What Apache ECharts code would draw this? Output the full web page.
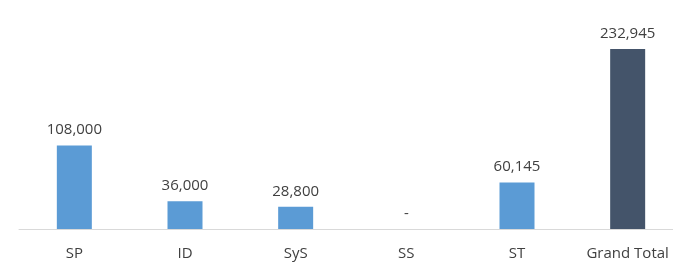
<!DOCTYPE html>
<html style="height: 100%; overflow: hidden">
<head>
  <meta charset="utf-8">
</head>
<body style="height: 100%; margin: 0; overflow: hidden">
  <!-- the plot runs past the right edge in the reference, so the canvas is a bit wider than the window -->
  <div id="container" style="width: 683px; height: 262px"></div>

  <script type="text/javascript" src="https://cdn.jsdelivr.net/npm/echarts@6/dist/echarts.min.js"></script>
  <script type="text/javascript">
    var categories = ['SP', 'ID', 'SyS', 'SS', 'ST', 'Grand Total'];
    var values = [108000, 36000, 28800, 0, 60145, 232945];
    var barColors = ['#5B9BD5', '#5B9BD5', '#5B9BD5', '#5B9BD5', '#5B9BD5', '#44546A'];

    var myChart = echarts.init(document.getElementById('container'), null, { renderer: 'canvas' });
    var font = 'Open Sans, Liberation Sans, sans-serif';

    var option = {
      animation: false,
      grid: { left: 19, top: 49, right: 0, bottom: 33, containLabel: false },
      xAxis: {
        type: 'category',
        data: categories,
        axisLine: { lineStyle: { color: '#D9D9D9', width: 1 } },
        axisTick: { show: false },
        axisLabel: { color: '#404040', fontSize: 15, fontFamily: font, margin: 17, interval: 0 }
      },
      yAxis: {
        type: 'value',
        min: 0,
        max: 232945,
        show: false,
        splitLine: { show: false }
      },
      series: [
        {
          type: 'bar',
          barWidth: 35,
          data: values.map(function (v, i) {
            return { value: v, itemStyle: { color: barColors[i] } };
          }),
          label: {
            show: true,
            position: 'top',
            distance: 8,
            color: '#404040',
            fontSize: 15,
            fontFamily: font,
            formatter: function (p) {
              // zero shows as a dash, like the source sheet
              return p.value === 0 ? '-' : p.value.toLocaleString('en-US');
            }
          }
        }
      ]
    };
    myChart.setOption(option);
  </script>
</body>
</html>
